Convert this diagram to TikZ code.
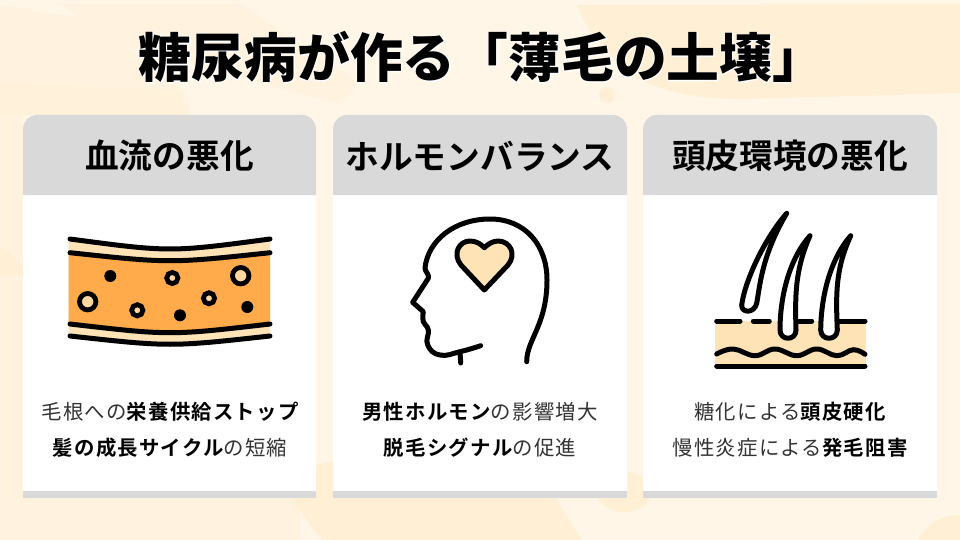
\documentclass[tikz,border=0pt]{standalone}
\usepackage{fontspec}
\setmainfont{Noto Sans CJK JP}[BoldFont={Noto Sans CJK JP Bold}]
\newfontfamily\blackfont{Noto Sans CJK JP Black}
\newfontfamily\haloblack[FakeBold=3]{Noto Sans CJK JP Black}
\definecolor{bgbase}{HTML}{FFF6E8}
\definecolor{bgmid}{HTML}{FFF3DF}
\definecolor{bgdark}{HTML}{FFEFD5}
\definecolor{cardgray}{HTML}{D9D9D9}
\definecolor{beige}{HTML}{FDE3B5}
\definecolor{ringfill}{HTML}{FFD8A0}
\definecolor{bloodorange}{HTML}{FFAB4C}
\definecolor{bodytext}{HTML}{333333}
\newcommand{\bld}[1]{{\bfseries\color{black}#1}}
\tikzset{
  x=1pt,y=-1pt,
  headtext/.style={font=\bfseries\fontsize{33.7}{34}\selectfont,text=black,anchor=center,inner sep=0},
  bodyline/.style={font=\fontsize{20.4}{20.4}\selectfont\addfontfeature{LetterSpace=6},text=bodytext,anchor=center,inner sep=0},
  ink/.style={draw=black,line width=5pt,line cap=round,line join=round},
  dot/.style={fill=black},
  ring/.style={draw=black,line width=4.8pt,fill=ringfill},
}
\newcommand{\card}[2]{%
  \fill[white] (#1,195) rectangle (#2,491);
  \fill[cardgray] (#1,491) rectangle (#2,498);
  \fill[cardgray] (#1,195) [rounded corners=14pt] -- (#1,115) -- (#2,115) [sharp corners] -- (#2,195) -- cycle;
}
\begin{document}
\begin{tikzpicture}
\useasboundingbox (0,0) rectangle (960,540);
% background
\fill[bgbase] (0,0) rectangle (960,540);
\fill[bgmid] (0,4) -- (240,4) -- (355,80) to[out=35,in=-15] (333,103) -- (105,40) to[out=200,in=150] (100,28) -- (60,4) -- cycle;
\fill[bgmid] (0,5) -- (90,20) -- (175,85) to[out=30,in=-90] (190,105) -- (190,115) -- (0,115) -- cycle;
\fill[bgdark!50!bgmid] (0,83) -- (173,90) to[out=10,in=-90] (188,107) -- (188,115) -- (0,115) -- cycle;
\fill[bgmid] (0,115) rectangle (23,540);
\fill[bgmid] (0,498) rectangle (300,540);
\fill[bgdark] (0,248) to[out=0,in=-90] (23,262) -- (23,275) -- (0,275) -- cycle;
\fill[bgdark] plot[smooth,tension=0.6] coordinates {(577,5) (590,30) (613,57) (647,83) (713,98) (813,97) (960,93)} -- (960,4) -- cycle;
\fill[bgdark] (607,95) circle (8);
\fill[bgdark] (316,465) -- (333,461) -- (500,461) to[out=0,in=125] (582,540) -- (322,540) -- (290,498) -- (316,498) -- cycle;
\fill[bgdark] (624,492) ellipse (27 and 20);
\fill[bgdark] (960,515) to[out=180,in=60] (918,540) -- (960,540) -- cycle;
% cards
\card{23}{316}
\card{333}{627}
\card{643}{937}
% title
\node[font=\haloblack\fontsize{52.8}{54}\selectfont,text=white,inner sep=0] (titlehalo) at (482,57) {糖尿病が作る「薄毛の土壌」};
\node[font=\blackfont\fontsize{52.8}{54}\selectfont,text=black,inner sep=0] (title) at (482,57) {糖尿病が作る「薄毛の土壌」};
% headings
\node[headtext] (h1) at (169.5,156) {血流の悪化};
\node[headtext] (h2) at (480,156) {ホルモンバランス};
\node[headtext] (h3) at (790,156) {頭皮環境の悪化};
% body
\node[bodyline] (b1a) at (170,412) {毛根への\bld{栄養供給ストップ}};
\node[bodyline] (b1b) at (170,448) {\bld{髪の成長サイクル}の短縮};
\node[bodyline] (b2a) at (480,412) {\bld{男性ホルモン}の影響増大};
\node[bodyline] (b2b) at (480,448) {\bld{脱毛シグナル}の促進};
\node[bodyline] (b3a) at (790,412) {糖化による\bld{頭皮硬化}};
\node[bodyline] (b3b) at (790,448) {慢性炎症による\bld{発毛阻害}};
% vessel
\fill[beige] (68.5,239) .. controls (170,252.3) .. (270,239) -- (270,336) .. controls (170,347) .. (68.5,336) -- cycle;
\fill[bloodorange] (68.5,252.7) .. controls (170,263.4) .. (270,252.7) -- (270,324) .. controls (170,335.6) .. (68.5,324) -- cycle;
\draw[ink] (70,239) .. controls (170,252.3) .. (270,239);
\draw[ink] (70,252.7) .. controls (170,263.4) .. (270,252.7);
\draw[ink] (70,324) .. controls (170,335.6) .. (270,324);
\draw[ink] (70,336) .. controls (170,347) .. (270,336);
\fill[dot] (110.3,276) circle (6);
\fill[dot] (180,315.3) circle (6);
\fill[dot] (247.3,307) circle (6);
\draw[ring] (172.3,278) circle (5.6);
\draw[ring] (137.3,310.3) circle (5.6);
\draw[ring] (209,298.3) circle (5.6);
\draw[ring] (240.7,275.7) circle (8.2);
\draw[ring] (87.7,301.7) circle (8.2);
% head
\draw[ink] (526.7,361.7) .. controls (526.5,340) and (547,325) .. (547,280) .. controls (547,245) and (525,219) .. (490,219) .. controls (455,219) and (428,240) .. (425,268) .. controls (425,272) and (429.5,274) .. (428.3,278.3) -- (412.7,302.3) -- (423.3,311.7) -- plot[smooth,tension=0.8] coordinates {(423.3,311.7) (423.3,321.7) (428.3,330) (427.7,345) (440,355) (460,351.7) (480.7,345.7)};
\draw[ink] (460,352) -- (460.7,363);
\draw[ink,fill=beige] (484.3,290) -- (461,265) .. controls (452,254) and (459,241) .. (470,241) .. controls (476,241) and (481,244) .. (484.3,247.7) .. controls (488,244) and (493,241) .. (498,241) .. controls (510,241) and (517,254) .. (508,265) -- cycle;
% scalp
\fill[beige] (715,321) rectangle (866,366);
\draw[ink,fill=white] (786.7,213.3) .. controls (765,238) and (745,280) .. (741.7,305) .. controls (741,313) and (754,314) .. (756.7,303.3) .. controls (760,285) and (762,255) .. (786.7,213.3) -- cycle;
\draw[ink,fill=white] (810,235.7) .. controls (790,258) and (780,295) .. (780,330) .. controls (780,341) and (796,341) .. (796,330) .. controls (795,295) and (795,270) .. (810,235.7) -- cycle;
\draw[ink,fill=white] (850.7,235.7) .. controls (831,258) and (821,295) .. (820.7,330) .. controls (820.7,341) and (837.3,341) .. (837.3,330) .. controls (836,295) and (835,270) .. (850.7,235.7) -- cycle;
\draw[ink] (716.7,321) -- (740,321);
\draw[ink] (753.3,321) -- (769.3,321);
\draw[ink] (798.3,321) -- (811.7,321);
\draw[ink] (838.3,321) -- (865,321);
\draw[ink] plot[smooth,tension=0.7] coordinates {(716.7,354) (733.3,349) (755,355.7) (775,349) (796.7,355.7) (816.7,349) (836.7,355.7) (853.3,349.7) (865,354.3)};
\draw[ink] (716.7,366) -- (865,366);
\end{tikzpicture}
\end{document}
